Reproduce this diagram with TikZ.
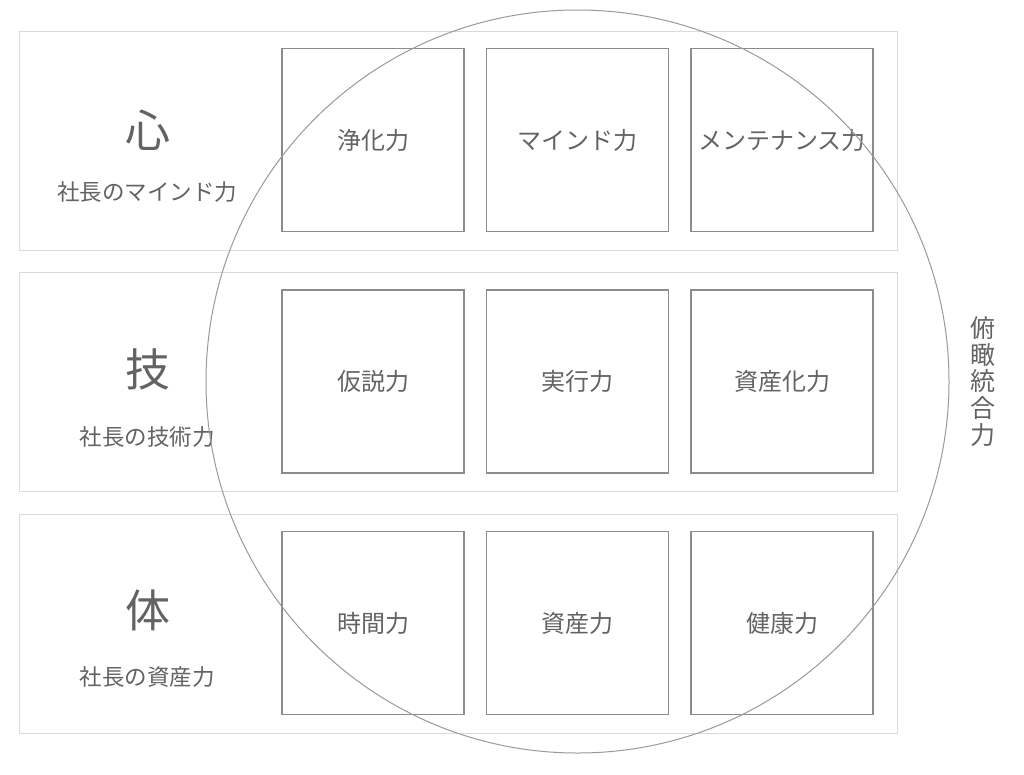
\documentclass[tikz,border=0pt]{standalone}
\usepackage{fontspec}
\newfontfamily\jp{Noto Sans CJK JP}
\definecolor{rowline}{HTML}{DADADA}
\definecolor{boxline}{HTML}{8C8C8C}
\definecolor{circline}{HTML}{9A9A9A}
\definecolor{txt}{HTML}{636363}
\begin{document}
\begin{tikzpicture}[x=1pt,y=-1pt,
  rowbox/.style={draw=rowline,line width=1pt,minimum width=878pt,minimum height=219pt,inner sep=0pt},
  cellbox/.style={draw=boxline,line width=1.1pt,minimum width=182pt,minimum height=183pt,inner sep=0pt,text=txt,font=\jp\fontsize{24}{28}\selectfont},
  bigchar/.style={text=txt,font=\jp\fontsize{45}{50}\selectfont,inner sep=0pt},
  subtitle/.style={text=txt,font=\jp\fontsize{22.5}{26}\selectfont,inner sep=0pt}]
\useasboundingbox (0,0) rectangle (1024,774);
\fill[white] (0,0) rectangle (1024,774);
% rows
\node[rowbox] (r1) at (458,140.5) {};
\node[rowbox] (r2) at (458,381.5) {};
\node[rowbox] (r3) at (458,623.5) {};
% left labels
\node[bigchar] (k1) at (148,130) {心};
\node[subtitle] (s1) at (147,192) {社長のマインド力};
\node[bigchar] (k2) at (148,369) {技};
\node[subtitle] (s2) at (147,437) {社長の技術力};
\node[bigchar] (k3) at (148,610) {体};
\node[subtitle] (s3) at (147,677) {社長の資産力};
% cells
\node[cellbox] (c11) at (373,140) {浄化力};
\node[cellbox] (c12) at (577.5,140) {マインド力};
\node[cellbox] (c13) at (782,140) {メンテナンス力};
\node[cellbox] (c21) at (373,381.5) {仮説力};
\node[cellbox] (c22) at (577.5,381.5) {実行力};
\node[cellbox] (c23) at (782,381.5) {資産化力};
\node[cellbox] (c31) at (373,623) {時間力};
\node[cellbox] (c32) at (577.5,623) {資産力};
\node[cellbox] (c33) at (782,623) {健康力};
% circle
\node[draw=circline,line width=1pt,circle,minimum size=743pt,inner sep=0pt] (circ) at (577.5,381.5) {};
% vertical label
\node[text=txt,font=\jp\fontsize{25}{26.6}\selectfont,align=center,inner sep=0pt] (v) at (983,381.5) {俯\\瞰\\統\\合\\力};
\end{tikzpicture}
\end{document}
